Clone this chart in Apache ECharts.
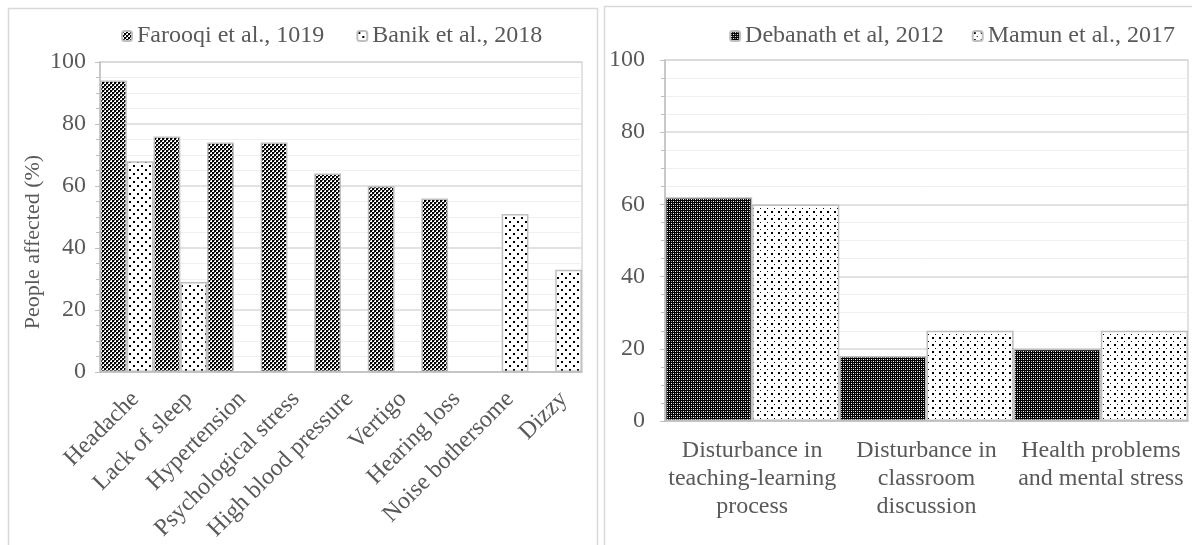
<!DOCTYPE html>
<html>
<head>
<meta charset="utf-8">
<script src="https://cdn.jsdelivr.net/npm/echarts@6/dist/echarts.min.js"></script>
<style>
  html, body { margin: 0; padding: 0; background: #ffffff; }
  #chart { width: 1192px; height: 545px; }
</style>
</head>
<body>
<div id="chart"></div>
<script>
// Left panel: reported health effects of noise
const leftCategories = ['Headache', 'Lack of sleep', 'Hypertension', 'Psychological stress',
  'High blood pressure', 'Vertigo', 'Hearing loss', 'Noise bothersome', 'Dizzy'];
const farooqiValues = [94, 76, 74, 74, 64, 60, 56, null, null];
const banikValues = [68, 29, null, null, null, null, null, 51, 33];

// Right panel: effects on teaching and learning
const rightCategories = ['Disturbance in\nteaching-learning\nprocess',
  'Disturbance in\nclassroom\ndiscussion',
  'Health problems\nand mental stress'];
const debanathValues = [62, 18, 20];
const mamunValues = [60, 25, 25];

const seriesNames = ['Farooqi et al., 1019', 'Banik et al., 2018', 'Debanath et al, 2012', 'Mamun et al., 2017'];
const yAxisTitle = 'People affected (%)';

// Small repeating pixel tiles used as bar fills
function makeTile(w, h, draw) {
  const c = document.createElement('canvas');
  c.width = w; c.height = h;
  const ctx = c.getContext('2d');
  ctx.fillStyle = '#ffffff';
  ctx.fillRect(0, 0, w, h);
  draw(ctx);
  return { image: c, repeat: 'repeat' };
}
// checker pattern (left, dark series)
const checkerFill = makeTile(4, 4, ctx => {
  ctx.fillStyle = '#000000';
  ctx.fillRect(0, 0, 2, 2);
  ctx.fillRect(2, 2, 2, 2);
  ctx.fillStyle = '#6e6e6e';
  ctx.fillRect(2, 0, 1, 1);
  ctx.fillRect(0, 2, 1, 1);
});
// dense diamond pattern (right, dark series)
const diamondFill = makeTile(4, 4, ctx => {
  ctx.fillStyle = '#000000';
  ctx.fillRect(0, 0, 4, 4);
  ctx.fillStyle = '#ffffff';
  ctx.fillRect(1, 1, 1, 1);
  ctx.fillRect(3, 3, 1, 1);
  ctx.fillStyle = '#9a9a9a';
  ctx.fillRect(3, 1, 1, 1);
  ctx.fillRect(1, 3, 1, 1);
});
// sparse dots (light series)
const dotFill = makeTile(8, 8, ctx => {
  ctx.fillStyle = '#000000';
  ctx.fillRect(1, 1, 2, 2);
  ctx.fillRect(5, 5, 2, 2);
});
const dotFillFine = makeTile(7, 7, ctx => {
  ctx.fillStyle = '#000000';
  ctx.fillRect(1, 1, 2, 2);
  ctx.fillRect(4, 5, 1, 1);
});

const FONT = 'Liberation Serif';
const FS = 24;
const TXT = '#595959';
const AXIS = '#bfbfbf';
const GRID_MAJOR = '#d9d9d9';
const GRID_MINOR = '#efefef';
const barBorder = { borderColor: '#bfbfbf', borderWidth: 1.5 };

function valueAxis(gridIndex, labelMargin) {
  return {
    type: 'value', gridIndex: gridIndex, min: 0, max: 100, interval: 20,
    axisLine: { show: true, lineStyle: { color: AXIS, width: 1.5 } },
    axisTick: { show: true, length: 5, lineStyle: { color: AXIS } },
    minorTick: { show: true, splitNumber: 4, length: 4, lineStyle: { color: AXIS } },
    axisLabel: { fontFamily: FONT, fontSize: FS, color: TXT, margin: labelMargin },
    splitLine: { show: true, lineStyle: { color: GRID_MAJOR, width: 1.5 } },
    minorSplitLine: { show: true, lineStyle: { color: GRID_MINOR, width: 1 } }
  };
}

const option = {
  animation: false,
  backgroundColor: '#ffffff',
  textStyle: { fontFamily: FONT },
  graphic: [
    { type: 'rect', shape: { x: 8.5, y: 8.5, width: 589, height: 560 },
      style: { fill: null, stroke: '#d9d9d9', lineWidth: 1.5 }, silent: true },
    { type: 'rect', shape: { x: 604.5, y: 6.5, width: 600, height: 560 },
      style: { fill: null, stroke: '#d9d9d9', lineWidth: 1.5 }, silent: true },
    { type: 'text', x: 33, y: 242, rotation: Math.PI / 2,
      style: { text: yAxisTitle, fontFamily: FONT, fontSize: 22, fill: TXT,
        align: 'center', verticalAlign: 'middle' }, silent: true }
  ],
  legend: [
    { data: [seriesNames[0], seriesNames[1]], left: 116, top: 19,
      itemWidth: 10, itemHeight: 10, itemGap: 32,
      textStyle: { fontFamily: FONT, fontSize: FS, color: TXT } },
    { data: [seriesNames[2], seriesNames[3]], right: 12, top: 19,
      itemWidth: 10, itemHeight: 10, itemGap: 28,
      textStyle: { fontFamily: FONT, fontSize: FS, color: TXT } }
  ],
  grid: [
    { left: 100, right: 610, top: 62, bottom: 173, show: true,
      borderColor: GRID_MAJOR, borderWidth: 1.5, backgroundColor: 'transparent' },
    { left: 665, right: 4, top: 60, bottom: 124, show: true,
      borderColor: GRID_MAJOR, borderWidth: 1.5, backgroundColor: 'transparent' }
  ],
  xAxis: [
    { type: 'category', gridIndex: 0, data: leftCategories,
      axisLine: { lineStyle: { color: AXIS, width: 1.5 } },
      axisTick: { show: false },
      axisLabel: { rotate: 45, interval: 0, margin: 15, verticalAlign: 'top',
        fontFamily: FONT, fontSize: FS, color: TXT } },
    { type: 'category', gridIndex: 1, data: rightCategories,
      axisLine: { lineStyle: { color: AXIS, width: 1.5 } },
      axisTick: { show: false },
      axisLabel: { interval: 0, margin: 16, lineHeight: 28, fontFamily: FONT, fontSize: FS, color: TXT } }
  ],
  yAxis: [ valueAxis(0, 14), valueAxis(1, 20) ],
  series: [
    { name: seriesNames[0], type: 'bar', xAxisIndex: 0, yAxisIndex: 0, data: farooqiValues,
      barGap: '0%', barCategoryGap: '0%',
      itemStyle: Object.assign({ color: checkerFill }, barBorder) },
    { name: seriesNames[1], type: 'bar', xAxisIndex: 0, yAxisIndex: 0, data: banikValues,
      barGap: '0%', barCategoryGap: '0%',
      itemStyle: Object.assign({ color: dotFill }, barBorder) },
    { name: seriesNames[2], type: 'bar', xAxisIndex: 1, yAxisIndex: 1, data: debanathValues,
      barGap: '0%', barCategoryGap: '0%',
      itemStyle: Object.assign({ color: diamondFill }, barBorder) },
    { name: seriesNames[3], type: 'bar', xAxisIndex: 1, yAxisIndex: 1, data: mamunValues,
      barGap: '0%', barCategoryGap: '0%',
      itemStyle: Object.assign({ color: dotFillFine }, barBorder) }
  ]
};

const chart = echarts.init(document.getElementById('chart'), null, { renderer: 'canvas' });
chart.setOption(option);
</script>
</body>
</html>
